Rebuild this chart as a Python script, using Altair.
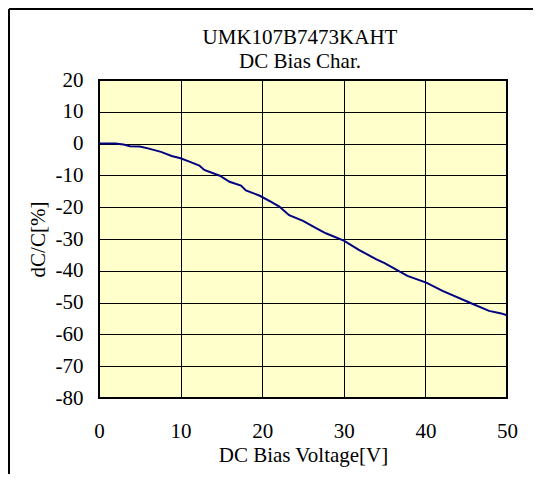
import altair as alt
import pandas as pd

voltage = [0, 2, 3, 3.8, 5, 6, 7.6, 8.9, 10, 11, 12.3, 12.9, 14.8, 16, 17.4, 18, 19.7,
           21.1, 22.1, 23.3, 25, 26.6, 27.8, 30, 31.9, 34, 35, 37.8, 40.1, 42.1, 45.6,
           47.8, 49.3, 50]
dcc = [0, 0, -0.3, -0.8, -0.9, -1.5, -2.6, -3.9, -4.6, -5.6, -6.9, -8.3, -10.1, -12.0,
       -13.2, -14.7, -16.4, -18.3, -19.8, -22.5, -24.3, -26.6, -28.2, -30.5, -33.5,
       -36.4, -37.6, -41.6, -43.7, -46.3, -50.2, -52.6, -53.4, -54.0]
x_ticks = [0, 10, 20, 30, 40, 50]
y_ticks = [20, 10, 0, -10, -20, -30, -40, -50, -60, -70, -80]

df = pd.DataFrame({"V": voltage, "C": dcc})
FONT = "Liberation Serif"
FS = 21

line = alt.Chart(df).mark_line(color="#000080", strokeWidth=2, clip=True).encode(
    x=alt.X("V:Q", scale=alt.Scale(domain=[0, 50], nice=False),
            axis=alt.Axis(values=x_ticks, title="DC Bias Voltage[V]", grid=True,
                          ticks=False, domain=False, labelPadding=22, labelFlush=False,
                          labelExpr="'' + datum.value",
                          titleY=63, titleBaseline="alphabetic")),
    y=alt.Y("C:Q", scale=alt.Scale(domain=[-80, 20], nice=False),
            axis=alt.Axis(values=y_ticks, title="dC/C[%]", grid=True, ticks=False,
                          domain=False, labelPadding=16, labelExpr="'' + datum.value",
                          titleX=-55, titleY=159, titleBaseline="alphabetic")),
)

one = alt.Data(values=[{}])
frame_top = alt.Chart(one).mark_rule(color="black", strokeWidth=2).encode(
    x=alt.value(-90), x2=alt.value(434), y=alt.value(-71))
frame_left = alt.Chart(one).mark_rule(color="black", strokeWidth=2).encode(
    x=alt.value(-90), y=alt.value(-71), y2=alt.value(394))

chart = alt.layer(line, frame_top, frame_left).properties(
    width=408, height=318,
    title=alt.TitleParams(["UMK107B7473KAHT", "DC Bias Char."], font=FONT,
                          fontSize=FS, fontWeight="normal", color="black",
                          anchor="middle", lineHeight=24, offset=10,
                          baseline="alphabetic", dy=91, dx=-3),
    autosize=alt.AutoSizeParams(type="none"),
    padding={"left": 91, "top": 72, "right": 26, "bottom": 76},
).configure_view(
    fill="#FFFFCC", stroke="black", strokeWidth=2
).configure_axis(
    gridColor="black", gridWidth=1, gridOpacity=1,
    labelFont=FONT, labelFontSize=FS, labelColor="black",
    titleFont=FONT, titleFontSize=FS, titleFontWeight="normal", titleColor="black",
).configure_axisY(labelBaseline="middle")

chart.save("out.html", embed_options={"renderer": "svg", "actions": False})
